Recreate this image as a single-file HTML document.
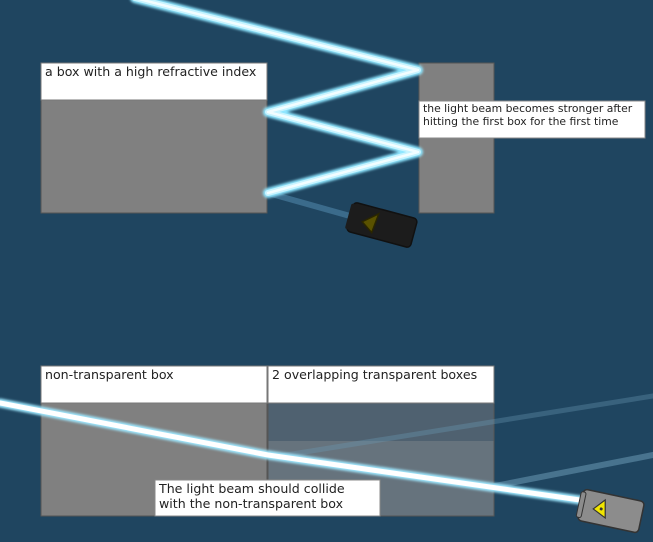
<!DOCTYPE html>
<html><head><style>
body{margin:0;width:653px;height:542px;overflow:hidden;background:#1f4560}
svg{display:block}
text{font-family:"DejaVu Sans","Liberation Sans",sans-serif;fill:#222}
</style></head><body>
<svg width="653" height="542" viewBox="0 0 653 542">
<defs>
<filter id="g" x="-20%" y="-20%" width="140%" height="140%"><feGaussianBlur stdDeviation="1.2"/></filter>
</defs>
<rect width="653" height="542" fill="#1f4560"/>
<rect x="41" y="63" width="226" height="150" fill="#808080" stroke="#555" stroke-width="1"/>
<rect x="41" y="63" width="226" height="37" fill="#fff" stroke="#777" stroke-width="1"/>
<text x="45" y="76" font-size="12.6">a box with a high refractive index</text>
<rect x="419" y="63" width="75" height="150" fill="#808080" stroke="#555" stroke-width="1"/>
<g fill="none" stroke-linecap="round" stroke-linejoin="round">
<line x1="268" y1="193" x2="350" y2="216" stroke="#4f85a8" stroke-width="6" opacity="0.6"/>
<polyline points="135,-2 418,70 268,112 418,152 268,193" stroke="#8fe6ff" stroke-width="10" filter="url(#g)"/>
<polyline points="135,-2 418,70 268,112 418,152 268,193" stroke="#c8f4ff" stroke-width="6"/>
<polyline points="135,-2 418,70 268,112 418,152 268,193" stroke="#f2fdff" stroke-width="2.5"/>
</g>
<rect x="419" y="101" width="226" height="37" fill="#fff" stroke="#888" stroke-width="1"/>
<text x="423" y="112" font-size="10.8">the light beam becomes stronger after</text>
<text x="423" y="125" font-size="10.8">hitting the first box for the first time</text>
<g transform="translate(382,225) rotate(15)">
<rect x="-33" y="-15" width="66" height="30" rx="4" fill="#1c1c1c" stroke="#111" stroke-width="1.5"/>
<rect x="-35" y="-13" width="5" height="26" rx="2" fill="#1c1c1c"/>
<polygon points="-20,2 -6,-10 -8,10" fill="#5a5200" stroke="#2a2600" stroke-width="1.5"/>
</g>
<rect x="41" y="366" width="226" height="150" fill="#808080" stroke="#555"/>
<rect x="268" y="403" width="226" height="38" fill="#4f6170"/>
<rect x="268" y="441" width="226" height="75" fill="#66737d"/>
<rect x="268" y="366" width="226" height="150" fill="none" stroke="#555"/>
<rect x="41" y="366" width="226" height="37" fill="#fff" stroke="#777"/>
<rect x="268" y="366" width="226" height="37" fill="#fff" stroke="#777"/>
<text x="45" y="379" font-size="12.6">non-transparent box</text>
<text x="272" y="379" font-size="12.6">2 overlapping transparent boxes</text>
<g stroke-linecap="round">
<line x1="280" y1="456" x2="653" y2="396" stroke="#6a9ab5" stroke-width="5" opacity="0.35"/>
<line x1="495" y1="486" x2="653" y2="455" stroke="#6a9ab5" stroke-width="6" opacity="0.55"/>
</g>
<g fill="none" stroke-linecap="round" stroke-linejoin="round">
<polyline points="0,403 268,455 580,500" stroke="#9fe8ff" stroke-width="9" filter="url(#g)"/>
<polyline points="0,403 268,455 580,500" stroke="#ffffff" stroke-width="5"/>
</g>
<rect x="155" y="480" width="225" height="36" fill="#fff" stroke="#888"/>
<text x="159" y="493" font-size="12.6">The light beam should collide</text>
<text x="159" y="508" font-size="12.6">with the non-transparent box</text>
<g transform="translate(611,511) rotate(12)">
<rect x="-31" y="-16" width="62" height="32" rx="4" fill="#8c8c8c" stroke="#333" stroke-width="1.5"/>
<rect x="-33" y="-13" width="5" height="26" rx="2" fill="#8c8c8c" stroke="#333"/>
<polygon points="-18,0 -6,-9 -6,9" fill="#f2e600" stroke="#333" stroke-width="1.2" transform="rotate(-12 -10 0)"/>
<circle cx="-10" cy="0" r="1.5" fill="#333"/>
</g>
</svg>
</body></html>
